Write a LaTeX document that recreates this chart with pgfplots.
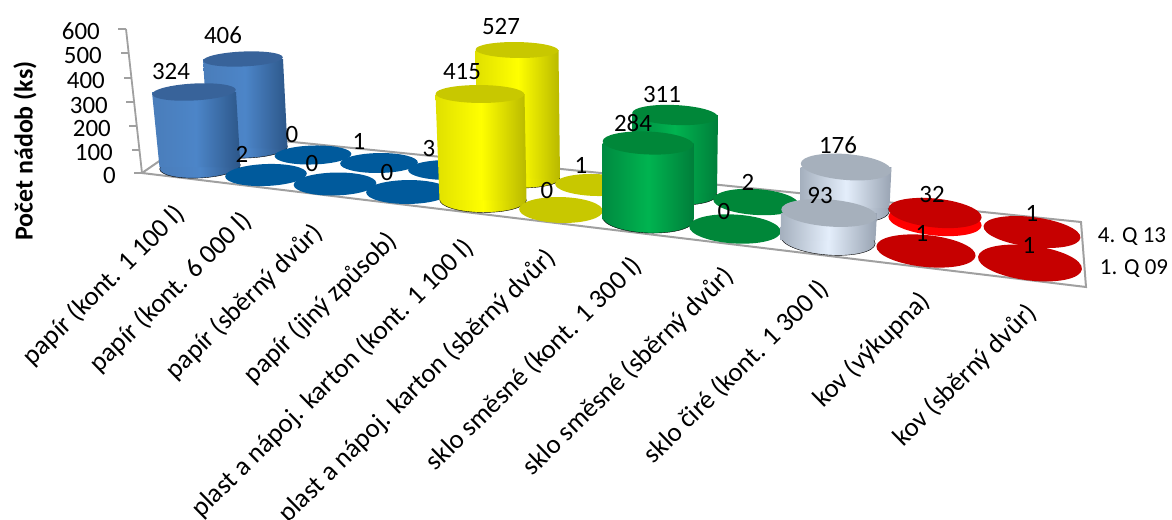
\documentclass[border=0pt]{standalone}
\usepackage{pgfplots}
\pgfplotsset{compat=1.18}
\usepackage{fontspec}
\setmainfont{Carlito}
\definecolor{axg}{HTML}{A0A0A0}
\definecolor{bL}{HTML}{4A7DBA}\definecolor{bM}{HTML}{4C85C8}\definecolor{bR}{HTML}{2C5688}\definecolor{bT}{HTML}{38639A}\definecolor{bF}{HTML}{005A9C}
\definecolor{yL}{HTML}{E0E000}\definecolor{yM}{HTML}{FFFF00}\definecolor{yR}{HTML}{B8B800}\definecolor{yT}{HTML}{C8C800}
\definecolor{gL}{HTML}{008A40}\definecolor{gM}{HTML}{00B450}\definecolor{gR}{HTML}{007E3A}\definecolor{gT}{HTML}{008739}
\definecolor{sL}{HTML}{A5B0BE}\definecolor{sM}{HTML}{E4EEFB}\definecolor{sR}{HTML}{98A3B2}\definecolor{sT}{HTML}{A6B0BC}
\definecolor{rM}{HTML}{FF0000}\definecolor{rT}{HTML}{C60000}
\pgfdeclareplotmark{ef}{\pgfpathcircle{\pgfpointorigin}{\pgfplotmarksize}\pgfusepathqfill}
\pgfdeclareplotmark{baseb}{\path[left color=bL,right color=bR,middle color=bM] (0,0) circle (1pt);}
\pgfdeclareplotmark{basey}{\path[left color=yL,right color=yR,middle color=yM] (0,0) circle (1pt);}
\pgfdeclareplotmark{baseg}{\path[left color=gL,right color=gR,middle color=gM] (0,0) circle (1pt);}
\pgfdeclareplotmark{bases}{\path[left color=sL,right color=sR,middle color=sM] (0,0) circle (1pt);}
% one ellipse: cx, cy, rx, ry, colour
\newcommand{\ovl}[5]{\addplot[only marks,mark=ef,mark size=1pt,mark options={fill=#5,color=#5,rotate={(450-#1)*0.012},xscale=#3,yscale=#4}] coordinates {(#1,#2)};}
% cylinder: top cx cy rx ry; base cx cy rx ry; family letter
\newcommand{\cyl}[9]{%
 \addplot[only marks,mark=base#9,mark size=1pt,mark options={rotate={(450-#5)*0.012},xscale=#7,yscale=#8}] coordinates {(#5,#6)};
 \pgfmathsetmacro\xa{#1-#3}\pgfmathsetmacro\xb{#1+#3}\pgfmathsetmacro\xc{#5+#7}\pgfmathsetmacro\xd{#5-#7}%
 \edef\tmpplot{\noexpand\addplot[draw=none,left color=#9L,right color=#9R,middle color=#9M] coordinates {(\xa,#2)(\xb,#2)(\xc,#6)(\xd,#6)} --cycle;}\tmpplot
 \ovl{#1}{#2}{#3}{#4}{#9T}}
\tikzset{lab/.style={font=\fontsize{25}{29}\selectfont,inner sep=0pt,text=black}}
\begin{document}
\begin{tikzpicture}
\path[use as bounding box,clip] (0,0) rectangle (1172bp,520bp);
\begin{axis}[at={(0,0)},anchor=south west,scale only axis,width=1172bp,height=520bp,
  xmin=0,xmax=1172,ymin=0,ymax=520,y dir=reverse,hide axis,clip=false,clip marker paths=true]
% floor and value axis
\addplot[axg,line width=2pt] coordinates {(142,173)(200,133)(293,142)(720,185)(1081,222)(1086,287)(142,173)};
\addplot[axg,line width=1.8pt] coordinates {(126,29)(142,173)};
\addplot[axg,line width=1.6pt] coordinates {(118,29)(126,29)};
\addplot[axg,line width=1.6pt] coordinates {(121,53)(129,53)};
\addplot[axg,line width=1.6pt] coordinates {(124,78)(132,78)};
\addplot[axg,line width=1.6pt] coordinates {(126,102)(134,102)};
\addplot[axg,line width=1.6pt] coordinates {(129,126)(137,126)};
\addplot[axg,line width=1.6pt] coordinates {(132,150)(140,150)};
\addplot[axg,line width=1.6pt] coordinates {(134,173)(142,173)};
% 4. Q 13
\cyl{243}{59}{40}{7.5}{248}{148}{39.5}{10}{b}
\ovl{313}{155}{38.5}{9.5}{bF}
\ovl{379}{163}{39}{10}{bF}
\ovl{447}{170}{39}{10}{bF}
\cyl{517}{50}{41.5}{8}{519}{178}{41}{10}{y}
\ovl{595}{185}{40}{11}{yT}
\cyl{675}{115}{43}{10}{675}{193}{42}{12}{g}
\ovl{756}{202}{43}{13}{gT}
\cyl{846}{167}{45.5}{13}{845}{208}{44.5}{14}{s}
\ovl{935}{221}{47}{14.5}{rM}
\ovl{935}{213}{47}{14.5}{rT}
\ovl{1032}{232}{49}{15}{rT}
% 1. Q 09
\cyl{194}{92}{42}{8.5}{200}{167}{40.5}{11}{b}
\ovl{266}{175}{41}{11}{bF}
\ovl{335}{184}{41.5}{11.5}{bF}
\ovl{408}{192}{42}{12}{bF}
\cyl{480}{94}{44.5}{9}{483}{200}{43.5}{12.5}{y}
\ovl{561}{210}{42}{13}{yT}
\cyl{648}{143}{45.5}{11.5}{648}{219}{45.5}{14}{g}
\ovl{735}{229}{46}{14.5}{gT}
\cyl{829}{213}{48}{13.5}{828}{240}{47.5}{15}{s}
\ovl{926}{251}{50}{16}{rT}
\ovl{1030}{263}{52.5}{17.5}{rT}
% value labels
\addplot[mark=none,draw=none,point meta=explicit symbolic,nodes near coords,
  every node near coord/.style={lab,anchor=center}] coordinates {
 (171,71)[324](223,35)[406](242,154)[2](292,134)[0](312,163)[0](359,141)[1](387,172)[0](429,148)[3]
 (462,72)[415](501,26)[527](581,165)[1](547,190)[0](662,94)[311](633,123)[284](748,182)[2](724,211)[0]
 (838,145)[176](820,195)[93](932,194)[32](922,233)[1](1032,213)[1](1029,245)[1]};
% value-axis numbers
\addplot[mark=none,draw=none,point meta=explicit symbolic,nodes near coords,
  every node near coord/.style={lab,anchor=east}] coordinates {
 (100,31)[600](102,55)[500](105,80)[400](108,105)[300](111,128)[200](113,152)[100](116,175)[0]};
% series names
\addplot[mark=none,draw=none,point meta=explicit symbolic,nodes near coords,
  every node near coord/.style={font=\fontsize{23}{27}\selectfont,inner sep=0pt,anchor=center}] coordinates {
 (1132,237)[4. Q 13](1134,269)[1. Q 09]};
% category names
\addplot[mark=none,draw=none,point meta=explicit symbolic,nodes near coords,
  every node near coord/.style={font=\fontsize{27}{31}\selectfont,inner sep=0pt,anchor=east,rotate=44.5}] coordinates {
 (181,210)[papír (kont. 1 100 l)]
 (248,217)[papír (kont. 6 000 l)]
 (319,229)[papír (sběrný dvůr)]
 (393,237)[papír (jiný způsob)]
 (470,244)[plast a nápoj. karton (kont. 1 100 l)]
 (552,254)[plast a nápoj. karton (sběrný dvůr)]
 (638,262)[sklo směsné (kont. 1 300 l)]
 (730,272)[sklo směsné (sběrný dvůr)]
 (825,285)[sklo čiré (kont. 1 300 l)]
 (926,297)[kov (výkupna)]
 (1033,309)[kov (sběrný dvůr)]};
% axis title
\addplot[mark=none,draw=none,point meta=explicit symbolic,nodes near coords,
  every node near coord/.style={font=\bfseries\fontsize{26}{30}\selectfont,inner sep=0pt,anchor=center,rotate=90}] coordinates {(25,151)[Počet nádob (ks)]};
\end{axis}
\end{tikzpicture}
\end{document}
